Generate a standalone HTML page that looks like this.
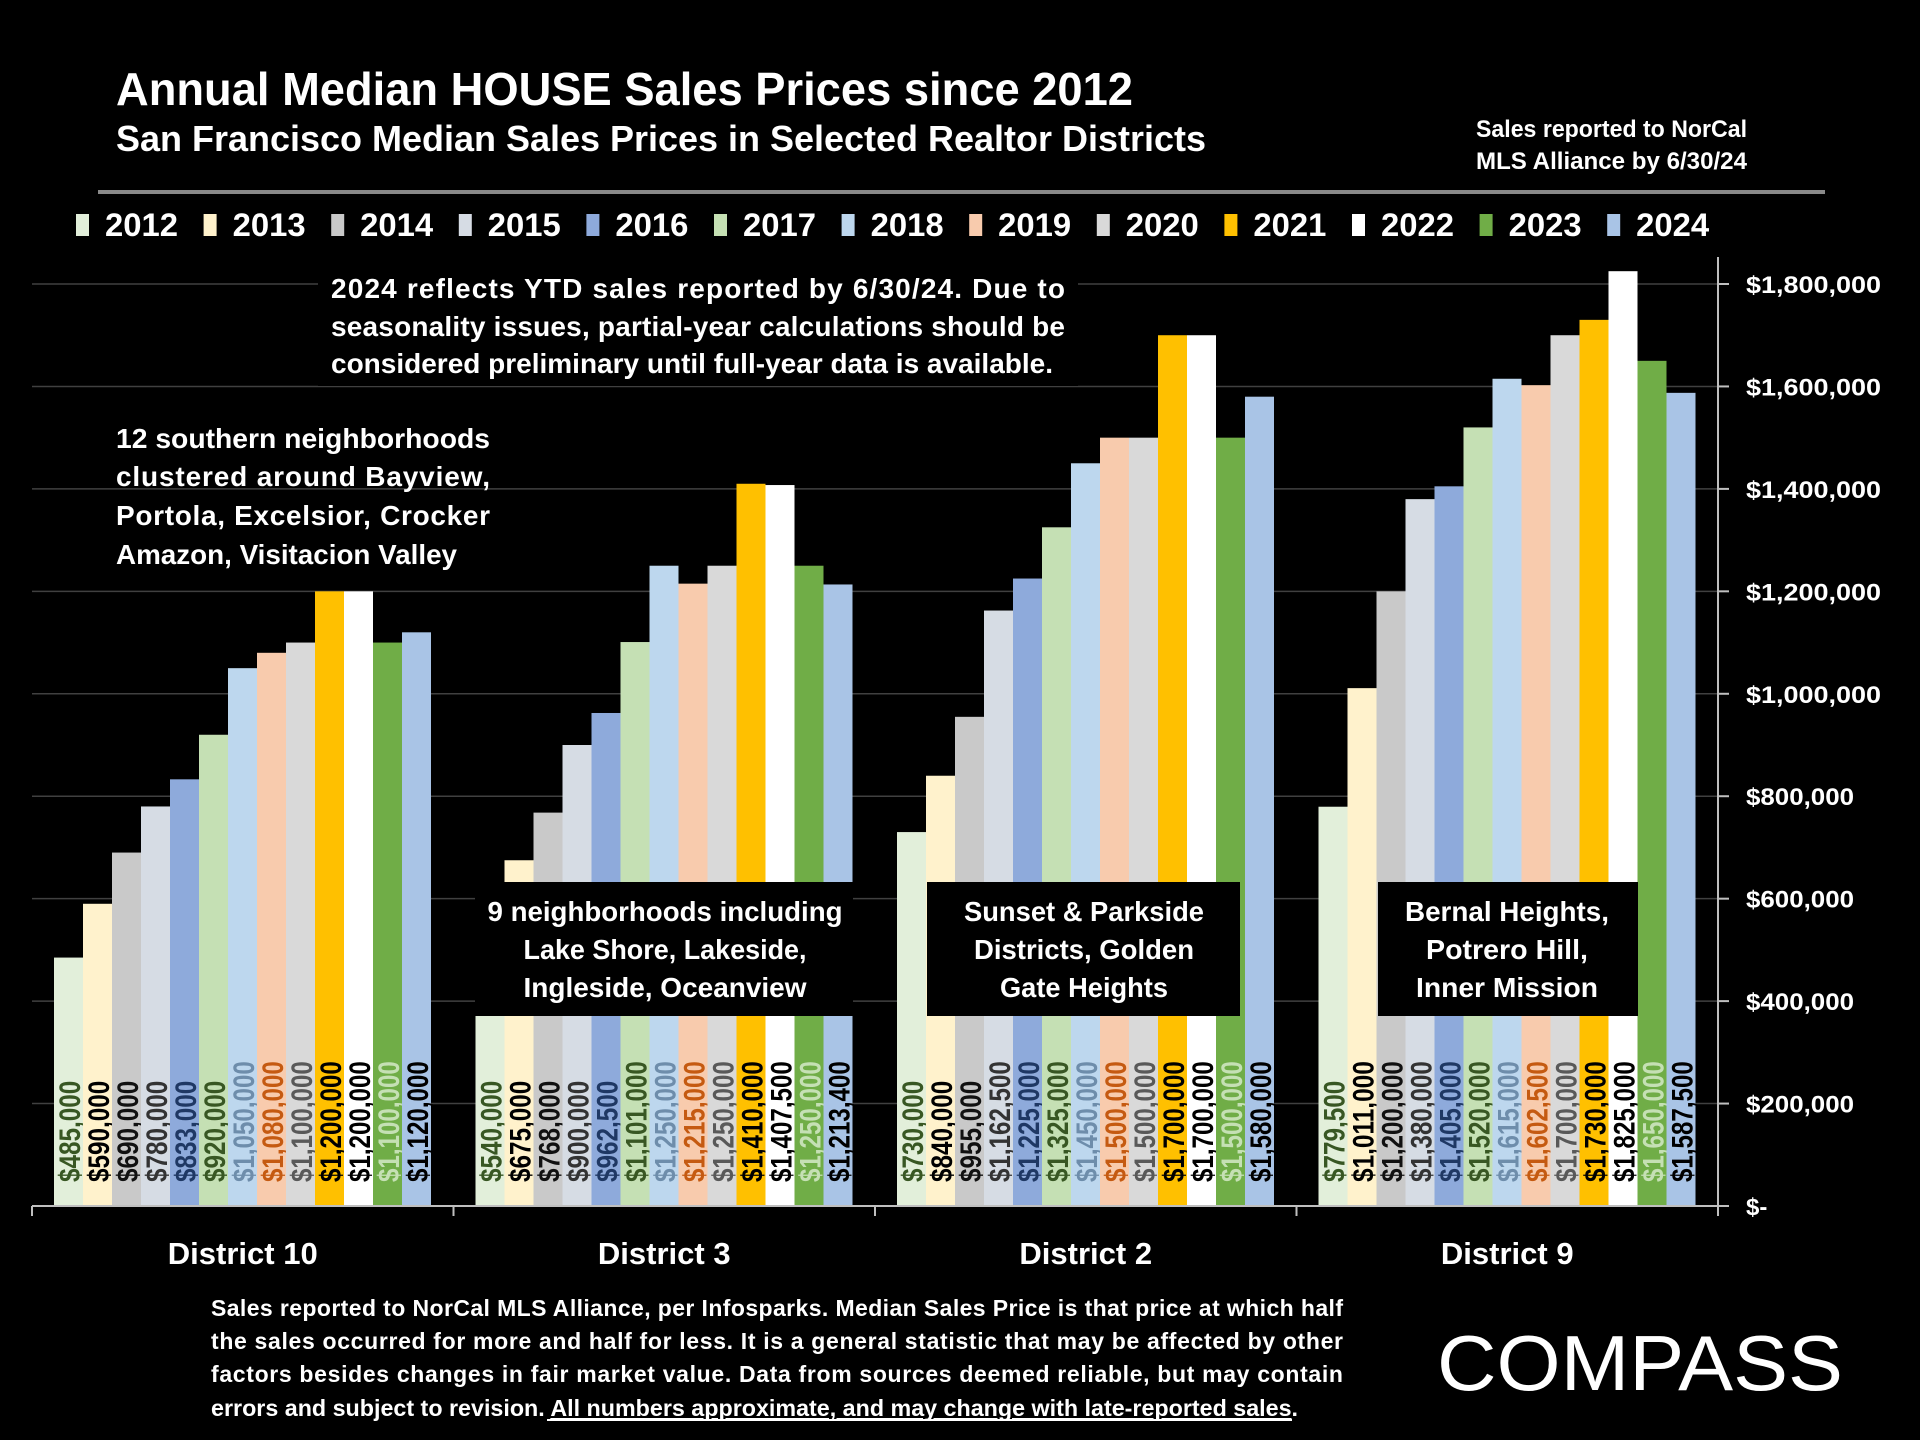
<!DOCTYPE html>
<html><head><meta charset="utf-8"><style>
html,body{margin:0;padding:0;background:#000;}
svg{display:block;font-family:"Liberation Sans",sans-serif;font-weight:bold;}
</style></head><body>
<svg id="chart" width="1920" height="1440" viewBox="0 0 1920 1440" xmlns="http://www.w3.org/2000/svg">
<rect x="0" y="0" width="1920" height="1440" fill="#000"/>
<text x="116" y="105" fill="#fff" font-size="46" textLength="1017" lengthAdjust="spacingAndGlyphs">Annual Median HOUSE Sales Prices since 2012</text>
<text x="116" y="151" fill="#fff" font-size="36" textLength="1090" lengthAdjust="spacingAndGlyphs">San Francisco Median Sales Prices in Selected Realtor Districts</text>
<text x="1476" y="137" fill="#fff" font-size="24" textLength="271" lengthAdjust="spacingAndGlyphs">Sales reported to NorCal</text>
<text x="1476" y="169" fill="#fff" font-size="24" textLength="271" lengthAdjust="spacingAndGlyphs">MLS Alliance by 6/30/24</text>
<rect x="98" y="190" width="1727" height="4" fill="#8a8a8a"/>
<g id="grid"></g>
<g id="bars"></g>
<g id="axes"></g>
<g id="legend"></g>

<g fill="#fff" font-size="28">
<rect x="318" y="266" width="760" height="120" fill="#000"/>
<text x="331" y="298" textLength="734" lengthAdjust="spacing">2024 reflects YTD sales reported by 6/30/24. Due to</text>
<text x="331" y="336" textLength="734" lengthAdjust="spacing">seasonality issues, partial-year calculations should be</text>
<text x="331" y="373" textLength="722" lengthAdjust="spacingAndGlyphs">considered preliminary until full-year data is available.</text>
</g>
<g fill="#fff" font-size="28">
<text x="116" y="448" textLength="374" lengthAdjust="spacingAndGlyphs">12 southern neighborhoods</text>
<text x="116" y="486" textLength="374" lengthAdjust="spacing">clustered around Bayview,</text>
<text x="116" y="525" textLength="374" lengthAdjust="spacing">Portola, Excelsior, Crocker</text>
<text x="116" y="564" textLength="341" lengthAdjust="spacingAndGlyphs">Amazon, Visitacion Valley</text>
</g>
<g fill="#fff" font-size="28" text-anchor="middle">
<rect x="475" y="882" width="378" height="134" fill="#000"/>
<text x="665" y="921" textLength="355" lengthAdjust="spacingAndGlyphs">9 neighborhoods including</text>
<text x="665" y="959" textLength="283" lengthAdjust="spacingAndGlyphs">Lake Shore, Lakeside,</text>
<text x="665" y="997" textLength="283" lengthAdjust="spacingAndGlyphs">Ingleside, Oceanview</text>
</g>
<g fill="#fff" font-size="28" text-anchor="middle">
<rect x="927" y="882" width="313" height="134" fill="#000"/>
<text x="1084" y="921" textLength="240" lengthAdjust="spacingAndGlyphs">Sunset &amp; Parkside</text>
<text x="1084" y="959" textLength="220" lengthAdjust="spacingAndGlyphs">Districts, Golden</text>
<text x="1084" y="997" textLength="168" lengthAdjust="spacingAndGlyphs">Gate Heights</text>
</g>
<g fill="#fff" font-size="28" text-anchor="middle">
<rect x="1378" y="882" width="260" height="134" fill="#000"/>
<text x="1507" y="921" textLength="204" lengthAdjust="spacingAndGlyphs">Bernal Heights,</text>
<text x="1507" y="959" textLength="162" lengthAdjust="spacingAndGlyphs">Potrero Hill,</text>
<text x="1507" y="997" textLength="182" lengthAdjust="spacingAndGlyphs">Inner Mission</text>
</g>

<g fill="#fff" font-size="23">
<text x="211" y="1316" textLength="1132" lengthAdjust="spacing">Sales reported to NorCal MLS Alliance, per Infosparks. Median Sales Price is that price at which half</text>
<text x="211" y="1349" textLength="1132" lengthAdjust="spacing">the sales occurred for more and half for less. It is a general statistic that may be affected by other</text>
<text x="211" y="1382" textLength="1132" lengthAdjust="spacing">factors besides changes in fair market value. Data from sources deemed reliable, but may contain</text>
<text x="211" y="1416" textLength="1087" lengthAdjust="spacingAndGlyphs">errors and subject to revision. <tspan text-decoration="underline">All numbers approximate, and may change with late-reported sales</tspan>.</text>
<rect x="547" y="1419" width="745" height="2" fill="#fff"/>
</g>
<text x="1437" y="1390" fill="#fff" font-size="78" font-weight="normal" textLength="406" lengthAdjust="spacingAndGlyphs">COMPASS</text>
</svg>
<script>
const years = ['2012','2013','2014','2015','2016','2017','2018','2019','2020','2021','2022','2023','2024'];
const districts = ['District 10','District 3','District 2','District 9'];
const district10 = [485000,590000,690000,780000,833000,920000,1050000,1080000,1100000,1200000,1200000,1100000,1120000];
const district3 = [540000,675000,768000,900000,962500,1101000,1250000,1215000,1250000,1410000,1407500,1250000,1213400];
const district2 = [730000,840000,955000,1162500,1225000,1325000,1450000,1500000,1500000,1700000,1700000,1500000,1580000];
const district9 = [779500,1011000,1200000,1380000,1405000,1520000,1615000,1602500,1700000,1730000,1825000,1650000,1587500];
const yTicks = [0,200000,400000,600000,800000,1000000,1200000,1400000,1600000,1800000];
const yTickLabels = ['$-','$200,000','$400,000','$600,000','$800,000','$1,000,000','$1,200,000','$1,400,000','$1,600,000','$1,800,000'];

const series = [district10, district3, district2, district9];
const barColors = ['#e2efda','#fff2cc','#c9c9c9','#d6dce4','#8eaadb','#c5e0b4','#bdd7ee','#f8cbad','#d9d9d9','#ffc000','#ffffff','#70ad47','#a9c4e6'];
const labelColors = ['#385723','#000','#111','#333','#1f3864','#385723','#6e8dab','#c55a11','#595959','#000','#000','#c5e0b4','#000'];
const NS = 'http://www.w3.org/2000/svg';
const plotL = 32, plotR = 1718, y0 = 1206, yTop = 284, yMax = 1800000;
const catW = (plotR - plotL) / districts.length;
const barW = 29, barOff = 22;
function yScale(v){ return y0 - (v / yMax) * (y0 - yTop); }
function xBar(g, i){ return plotL + g * catW + barOff + i * barW; }
function mk(tag, attrs, parent){ const e = document.createElementNS(NS, tag); for (const k in attrs) e.setAttribute(k, attrs[k]); parent.appendChild(e); return e; }
function fmt(v){ return '$' + v.toLocaleString('en-US'); }
function estW(s){ let w = 0; for (const c of s) w += (c === ',') ? 6 : 13.6; return w; }

const grid = document.getElementById('grid');
const axes = document.getElementById('axes');
yTicks.forEach((t, k) => {
  const y = yScale(t);
  if (t > 0) {
    const gl = mk('line', {x1: plotL, x2: plotR, y1: y, y2: y, stroke: '#404040', 'stroke-width': 1.5}, grid);
    
    
  }
  const tk = mk('line', {x1: plotR, x2: plotR + 11, y1: y, y2: y, stroke: '#bfbfbf', 'stroke-width': 2}, axes);
  
  
  const lb = mk('text', {x: 1746, y: y + 9, fill: '#fff', 'font-size': 24}, axes);
  
  
  lb.textContent = yTickLabels[k];
  if (yTickLabels[k].length > 2) { lb.setAttribute('textLength', yTickLabels[k].length * 13.5); lb.setAttribute('lengthAdjust', 'spacingAndGlyphs'); }
});
const ya = mk('line', {x1: plotR, x2: plotR, y1: 257, y2: 1215, stroke: '#bfbfbf', 'stroke-width': 2}, axes);


const xa = mk('line', {x1: plotL, x2: plotR, y1: y0, y2: y0, stroke: '#bfbfbf', 'stroke-width': 2}, axes);


for (let g = 0; g <= districts.length; g++) {
  const x = plotL + g * catW;
  const ct = mk('line', {x1: x, x2: x, y1: y0, y2: y0 + 10, stroke: '#bfbfbf', 'stroke-width': 2}, axes);
  
  
}
districts.forEach((d, g) => {
  const t = mk('text', {x: plotL + g * catW + catW / 2, y: 1264, fill: '#fff', 'font-size': 31, 'text-anchor': 'middle'}, axes);
  
  
  t.textContent = d;
});

const bars = document.getElementById('bars');
series.forEach((vals, g) => {
  vals.forEach((v, i) => {
    const x = xBar(g, i), y = yScale(v);
    const r = mk('rect', {x: x, y: y, width: barW, height: y0 - y, fill: barColors[i]}, bars);
    
    
    const s = fmt(v);
    const tx = x + 26, ty = 1182;
    const t = mk('text', {x: tx, y: ty, fill: labelColors[i], 'font-size': 30, transform: 'rotate(-90 ' + tx + ' ' + ty + ')', textLength: estW(s), lengthAdjust: 'spacingAndGlyphs'}, bars);
    
    
    t.textContent = s;
  });
});

const legend = document.getElementById('legend');
years.forEach((yr, i) => {
  const x = 76 + i * 127.6;
  const sw = mk('rect', {x: x, y: 214, width: 13, height: 22, fill: barColors[i]}, legend);
  
  
  const t = mk('text', {x: x + 29, y: 236, fill: '#fff', 'font-size': 32, textLength: 73, lengthAdjust: 'spacingAndGlyphs'}, legend);
  
  
  t.textContent = yr;
});
</script>
</body></html>
